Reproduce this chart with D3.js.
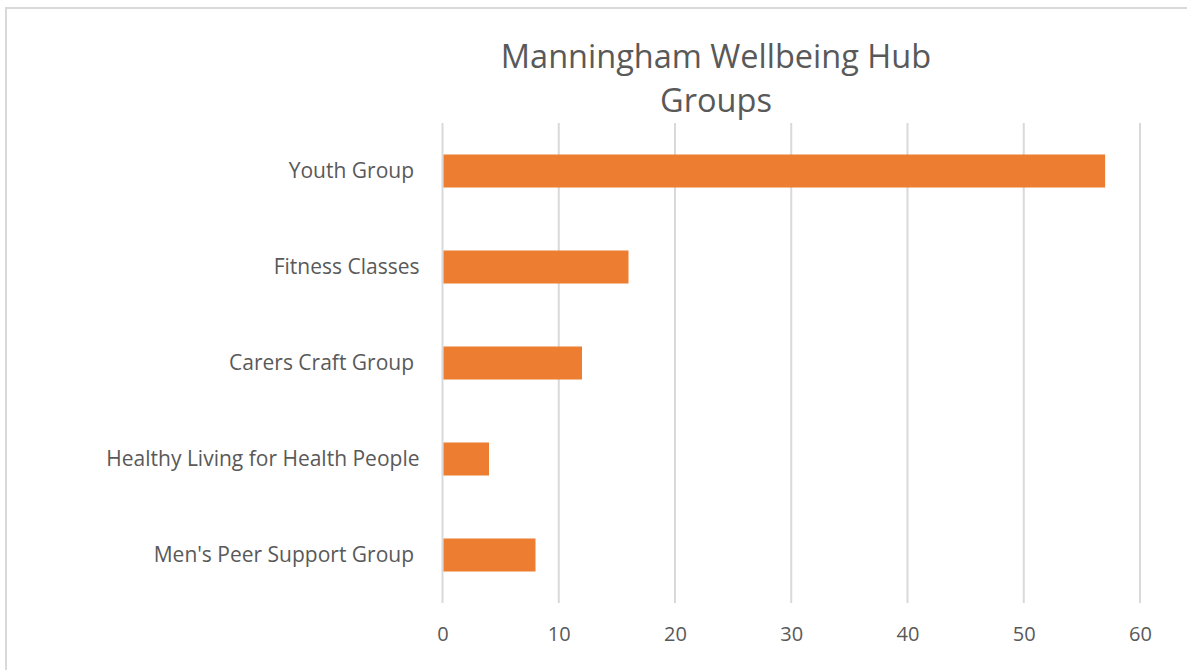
<!DOCTYPE html>
<html>
<head>
<meta charset="utf-8">
<script src="https://cdn.jsdelivr.net/npm/d3@7"></script>
<style>
  body { margin: 0; background: #fff; }
  text { font-family: "Open Sans", sans-serif; fill: #595959; }
</style>
</head>
<body>
<svg width="1187" height="670"></svg>
<script>
// chart data
var categories = ["Youth Group ", "Fitness Classes", "Carers Craft Group ", "Healthy Living for Health People", "Men's Peer Support Group "];
var counts = [57, 16, 12, 4, 8];
var xTicks = [0, 10, 20, 30, 40, 50, 60];
var titleLines = ["Manningham Wellbeing Hub", "Groups"];

var svg = d3.select("svg");

// outer chart border
svg.append("rect")
  .attr("x", 6).attr("y", 8)
  .attr("width", 1200).attr("height", 700)
  .attr("fill", "none")
  .attr("stroke", "#d9d9d9")
  .attr("stroke-width", 2);

var margin = {top: 123, left: 442.5},
    width = 1140 - 442.5,
    height = 603 - 123;

var g = svg.append("g").attr("transform", "translate(" + margin.left + "," + margin.top + ")");

var x = d3.scaleLinear().domain([0, 60]).range([0, width]);
var y = d3.scaleBand().domain(categories).range([0, height]).paddingInner(0.656).paddingOuter(0.328);

// gridlines
g.selectAll(".grid")
  .data(xTicks)
  .enter().append("line")
    .attr("class", "grid")
    .attr("x1", function(d) { return x(d); })
    .attr("x2", function(d) { return x(d); })
    .attr("y1", 0).attr("y2", height)
    .attr("stroke", "#d9d9d9")
    .attr("stroke-width", 2);

// bars
g.selectAll(".bar")
  .data(counts)
  .enter().append("rect")
    .attr("class", "bar")
    .attr("x", x(0) + 1)
    .attr("y", function(d, i) { return y(categories[i]); })
    .attr("width", function(d) { return x(d) - x(0) - 1; })
    .attr("height", y.bandwidth())
    .attr("fill", "#ed7d31");

// x axis labels
var xAxis = g.append("g")
  .attr("transform", "translate(0," + height + ")")
  .call(d3.axisBottom(x).tickValues(xTicks).tickSize(0).tickPadding(24));
xAxis.select(".domain").remove();
xAxis.selectAll("text")
  .attr("font-family", "Open Sans, sans-serif")
  .attr("font-size", 20)
  .style("fill", "#595959");

// y axis labels
var yAxis = g.append("g")
  .call(d3.axisLeft(y).tickSize(0).tickPadding(23));
yAxis.select(".domain").remove();
yAxis.selectAll("text")
  .attr("font-family", "Open Sans, sans-serif")
  .attr("font-size", 21)
  .style("white-space", "pre")
  .style("fill", "#595959");

// title
svg.append("text")
  .attr("x", 716)
  .attr("y", 57)
  .attr("text-anchor", "middle")
  .attr("font-size", 32.5)
  .selectAll("tspan")
  .data(titleLines)
  .enter().append("tspan")
    .attr("x", 716)
    .attr("dy", function(d, i) { return i === 0 ? "0.35em" : "44px"; })
    .text(function(d) { return d; });
</script>
</body>
</html>
